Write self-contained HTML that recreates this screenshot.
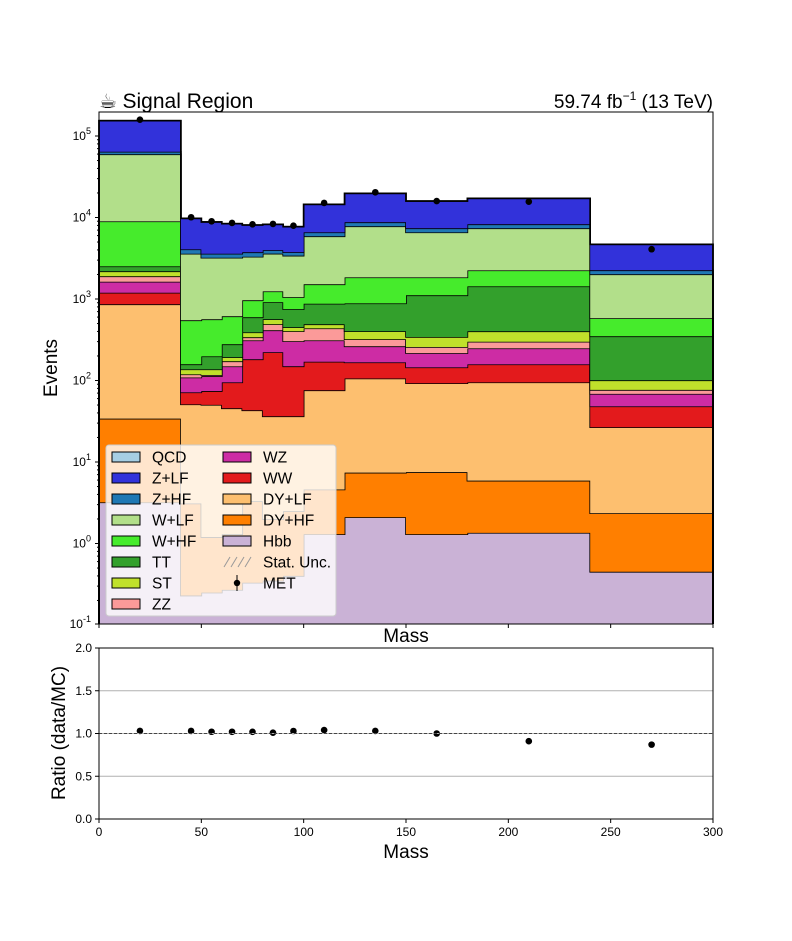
<!DOCTYPE html>
<html><head><meta charset="utf-8"><style>
body{margin:0;background:#fff;}
svg text{font-family:"Liberation Sans","DejaVu Sans",sans-serif;}
</style></head><body>
<svg id="c" width="792" height="936" xmlns="http://www.w3.org/2000/svg"></svg>
<script>
const edges=[0,40,50,60,70,80,90,100,120,150,180,240,300];
const names=["Hbb","DY+HF","DY+LF","WW","WZ","ZZ","ST","TT","W+HF","W+LF","Z+HF","Z+LF","QCD"];
const colors=["#cab2d6","#ff7f00","#fdbf6f","#e31a1c","#cd2ca4","#fb9a99","#c0e02b","#33a02c","#46eb2c","#b2df8a","#1f78b4","#3232da","#a6cee3"];
const hbb=[3.2,0.23,0.25,0.27,0.33,0.35,0.4,1.3,2.1,1.3,1.35,0.45];
const dyhf=[30.8,2.87,0.95,1.03,2.97,1.65,2.1,3.3,5.3,6.2,4.55,1.9];
const dylf=[827,47.9,49.1,44.3,39.8,34.4,33.9,71.2,98.6,85,89,24.35];
const ww=[333,20.6,24,49.4,139,186,113,94,61,52.5,63,21.5];
const wz=[435,37.4,38.7,54,129,191,154,141,96,72,90,20.4];
const zz=[270,10,4,23,28,77,99,126,58,41,51,8];
const st=[289,18,20,21,51,74,48,53,81,84,103,24];
const tt=[330,21,61,85,206,348,302,386,483,768,1029,248];
const whf=[6460,390,366,336,368,330,302,639,960,735,818,232];
const wlf=[50700,3049,2648,2598,2340,2355,2347,4365,5955,4735,5121,1429];
const zhf=[4500,473,385,385,437,366,344,700,930,790,890,240];
const zlf=[89800,5710,5213,4803,4349,4297,3969,7940,11070,8550,8940,2441];
const qcd=[0,0,0,0,0,0,0,0,0,0,0,0];
const dataCounts=[158600,10070,8990,8570,8250,8340,7940,15100,20400,15920,15650,4080];
const yTickExp=[-1,0,1,2,3,4,5];
const xTicks=[0,50,100,150,200,250,300];
const rTicks=[0.0,0.5,1.0,1.5,2.0];

const series=[hbb,dyhf,dylf,ww,wz,zz,st,tt,whf,wlf,zhf,zlf,qcd];
const NS="http://www.w3.org/2000/svg";
const svg=document.getElementById('c');
function mk(t,a,p){const e=document.createElementNS(NS,t);for(const k in a)e.setAttribute(k,a[k]);(p||svg).appendChild(e);return e;}
const L=99,R=713,T=112,B=624,RT=648,RB=819;
const X=v=>L+(v-0)/(300-0)*(R-L);
const Y=v=>{let e=Math.log10(Math.max(v,1e-3));let y=136+(5-e)*81.5;return Math.min(Math.max(y,T),B);};
const YR=r=>RB-(r/2)*(RB-RT);

let cum=edges.slice(0,-1).map(()=>0);
const g=mk('g',{});
series.forEach((s,si)=>{
  const bot=cum.slice(); const top=cum.map((c,i)=>c+s[i]);
  let d='';
  for(let i=0;i<top.length;i++){d+=(i?'L':'M')+X(edges[i])+','+Y(top[i])+'L'+X(edges[i+1])+','+Y(top[i]);}
  for(let i=bot.length-1;i>=0;i--){const b=bot[i]>0?Y(bot[i]):B;d+='L'+X(edges[i+1])+','+b+'L'+X(edges[i])+','+b;}
  const p=mk('path',{d:d+'Z',fill:colors[si],stroke:'none'},g);
  
  
  let ld='M'+X(edges[0])+','+B;
  for(let i=0;i<top.length;i++){ld+='L'+X(edges[i])+','+Y(top[i])+'L'+X(edges[i+1])+','+Y(top[i]);}
  ld+='L'+X(edges[top.length])+','+B;
  const l=mk('path',{d:ld,fill:'none',stroke:'#000','stroke-width':1.6},g);
  
  
  cum=top;
});
const total=cum;
dataCounts.forEach((v,i)=>{
  const cx=X((edges[i]+edges[i+1])/2);
  const c=mk('circle',{cx:cx,cy:Y(v),r:3.3,fill:'#000'});
  
  
  const r=v/total[i];
  const c2=mk('circle',{cx:cx,cy:YR(r),r:3.3,fill:'#000'});
  
  
});
const fr=mk('rect',{x:L,y:T,width:R-L,height:B-T,fill:'none',stroke:'#000','stroke-width':1});

yTickExp.forEach(e=>{
  const y=Y(Math.pow(10,e));
  mk('line',{x1:L-4,x2:L,y1:y,y2:y,stroke:'#000'});
  const t=mk('text',{x:L-8,y:y+4,'font-size':12,'text-anchor':'end'});
  
  t.innerHTML='10<tspan dy="-6" font-size="9">'+e+'</tspan>';
  if(e<5)for(let m=2;m<10;m++){const ym=Y(m*Math.pow(10,e));if(ym>T)mk('line',{x1:L-2,x2:L,y1:ym,y2:ym,stroke:'#000'});}
});
xTicks.forEach(v=>{
  mk('line',{x1:X(v),x2:X(v),y1:B,y2:B+4,stroke:'#000'});
  mk('line',{x1:X(v),x2:X(v),y1:RB,y2:RB+4,stroke:'#000'});
  const t=mk('text',{x:X(v),y:RB+17,'font-size':12,'text-anchor':'middle'});
  
  t.textContent=v;
});
rTicks.forEach(r=>{
  if(r>0&&r<2){const gl=mk('line',{x1:L,x2:R,y1:YR(r),y2:YR(r),stroke:'#b0b0b0','stroke-width':1});}
  mk('line',{x1:L-4,x2:L,y1:YR(r),y2:YR(r),stroke:'#000'});
  const t=mk('text',{x:L-7,y:YR(r)+4,'font-size':12,'text-anchor':'end'});
  
  t.textContent=r.toFixed(1);
});
mk('line',{x1:L,x2:R,y1:YR(1),y2:YR(1),stroke:'#444','stroke-dasharray':'3,2','stroke-width':1});
const rf=mk('rect',{x:L,y:RT,width:R-L,height:RB-RT,fill:'none',stroke:'#000'});

const lg=mk('g',{});
mk('rect',{x:106,y:445,width:230,height:171,rx:3,fill:'#fff','fill-opacity':0.8,stroke:'#ccc'},lg);
const legOrder=[12,11,10,9,8,7,6,5,4,3,2,1,0];
const rowsY=[457,478,499,520,541,562,583,604];
legOrder.forEach((si,k)=>{
  const col=k<8?0:1,row=k<8?k:k-8;
  const px=col?223:112,tx=col?263:152,y=rowsY[row];
  const r=mk('rect',{x:px,y:y-5,width:28,height:10,fill:colors[si],stroke:'#000','stroke-width':1},lg);
  
  const t=mk('text',{x:tx,y:y+5.5,'font-size':15.5},lg);
  
  t.textContent=names[si];
});
for(let i=0;i<4;i++)mk('line',{x1:224+i*7,y1:567,x2:230+i*7,y2:557,stroke:'#999','stroke-width':1},lg);
let t=mk('text',{x:263,y:567.5,'font-size':15.5},lg);t.textContent='Stat. Unc.';
mk('line',{x1:237,x2:237,y1:575,y2:591,stroke:'#000'},lg);mk('circle',{cx:237,cy:583,r:3.2,fill:'#000'},lg);
t=mk('text',{x:263,y:588.5,'font-size':15.5},lg);t.textContent='MET';
</script>
<svg width="792" height="936" style="position:absolute;left:0;top:0" xmlns="http://www.w3.org/2000/svg">
<text x="99" y="108" font-size="20" font-family="Liberation Sans, DejaVu Sans, sans-serif">☕ <tspan font-size="21">Signal Region</tspan></text>
<text x="713" y="108" font-size="19" text-anchor="end" font-family="Liberation Sans, sans-serif">59.74 fb<tspan dy="-8" font-size="12">−1</tspan><tspan dy="8"> (13 TeV)</tspan></text>
<text transform="translate(57,368) rotate(-90)" font-size="19" text-anchor="middle" font-family="Liberation Sans, sans-serif">Events</text>
<text x="406" y="642" font-size="19" text-anchor="middle" font-family="Liberation Sans, sans-serif">Mass</text>
<text transform="translate(65,733) rotate(-90)" font-size="19" text-anchor="middle" font-family="Liberation Sans, sans-serif">Ratio (data/MC)</text>
<text x="406" y="858" font-size="19" text-anchor="middle" font-family="Liberation Sans, sans-serif">Mass</text>
</svg>
</body></html>
